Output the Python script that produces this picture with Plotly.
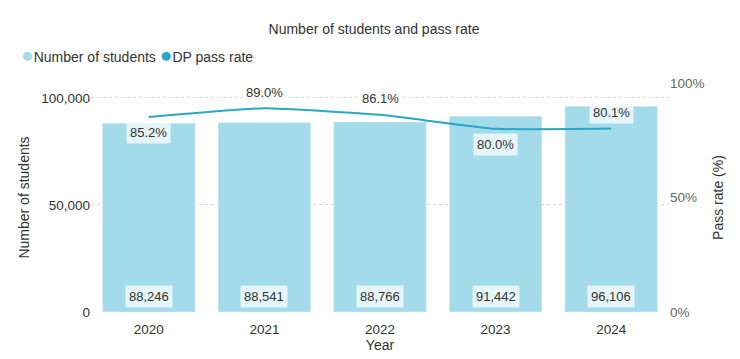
import plotly.graph_objects as go

years = ["2020", "2021", "2022", "2023", "2024"]
students = [88246, 88541, 88766, 91442, 96106]
pass_rate = [85.2, 89.0, 86.1, 80.0, 80.1]
label_pos = ["below", "above", "above", "below", "above"]

BAR = "#a3dbeb"
LINE = "#2ba6cb"
FONT = "Liberation Sans, Arial, sans-serif"

# page body has an 8px margin; figure sized to fit inside the 740x359 window
W, H = 732, 351
L, T = 82.6, 75
PW, PH = 578.8, 229

fig = go.Figure()
fig.add_trace(go.Bar(x=years, y=students, name="Number of students",
                     marker_color=BAR, showlegend=False, yaxis="y"))
fig.add_trace(go.Scatter(x=years, y=pass_rate, name="DP pass rate", mode="lines",
                         line=dict(color=LINE, width=2, shape="spline", smoothing=0.4),
                         showlegend=False, yaxis="y2"))

ann = []
for i, v in enumerate(students):
    ann.append(dict(x=i, y=0, xref="x", yref="y", text=f"{v:,}", showarrow=False,
                    yshift=16, font=dict(size=13, color="#333", family=FONT),
                    bgcolor="rgba(255,255,255,0.72)", borderpad=3))
for i, (v, p) in enumerate(zip(pass_rate, label_pos)):
    ann.append(dict(x=i, y=v, xref="x", yref="y2", text=f"{v:.1f}%", showarrow=False,
                    yshift=16 if p == "above" else -16,
                    font=dict(size=13, color="#333", family=FONT),
                    bgcolor="rgba(255,255,255,0.72)", borderpad=3))

# legend built as text line
ann.append(dict(xref="paper", yref="paper", x=(10 - L) / PW, y=(T + PH - 47) / PH,
                xanchor="left", yanchor="middle", showarrow=False,
                text=(f"<span style='color:{BAR};font-size:21px'>●</span>Number of students"
                      f" <span style='color:{LINE};font-size:21px'>●</span>DP pass rate"),
                font=dict(size=14, color="#333", family=FONT)))

fig.update_layout(
    annotations=ann,
    width=W, height=H,
    margin=dict(l=L, r=W - L - PW, t=T, b=H - T - PH, autoexpand=False),
    paper_bgcolor="white", plot_bgcolor="white",
    font=dict(family=FONT, size=13, color="#333"),
    title=dict(text="Number of students and pass rate", x=0.5, xanchor="center",
               y=1 - 21 / H, yanchor="middle", yref="container", pad=dict(t=0, b=0),
               font=dict(size=14, color="#333", family=FONT)),
    bargap=0.2,
    xaxis=dict(type="category", range=[-0.5, 4.5], automargin=False,
               title=dict(text="Year", standoff=0, font=dict(size=14)),
               ticks="outside", ticklen=5, tickcolor="rgba(0,0,0,0)",
               showgrid=False, zeroline=False, showline=False,
               tickfont=dict(size=13.5, color="#333")),
    yaxis=dict(title=dict(text="Number of students", standoff=8, font=dict(size=14)),
               automargin=False,
               range=[0, 107000], tickvals=[0, 50000, 100000],
               ticktext=["0", "50,000", "100,000"],
               showgrid=True, gridcolor="#d6d6d6", griddash="dot",
               zeroline=False, showline=False,
               tickfont=dict(size=13.5, color="#333")),
    yaxis2=dict(title=dict(text="Pass rate (%)", standoff=9, font=dict(size=14)),
                automargin=False,
                overlaying="y", side="right", range=[0, 100], tickvals=[0, 50, 100],
                ticktext=["0%", "50%", "100%"], showgrid=False, zeroline=False,
                showline=False, tickfont=dict(size=13.5, color="#666")),
)

fig.write_html("out.html")
